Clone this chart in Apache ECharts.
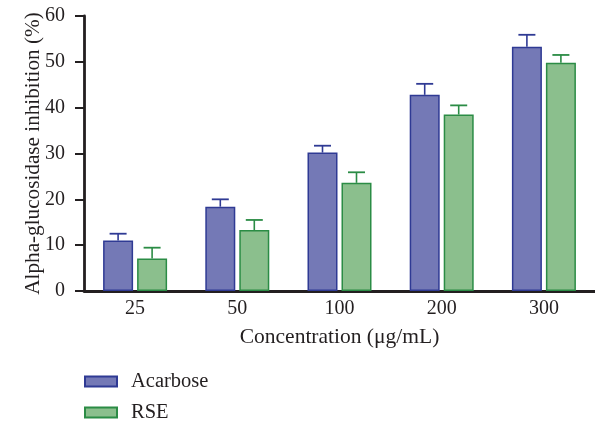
<!DOCTYPE html>
<html>
<head>
<meta charset="utf-8">
<script src="https://cdn.jsdelivr.net/npm/echarts@6/dist/echarts.min.js"></script>
<style>html,body{margin:0;padding:0;background:#fff;}#c{width:595px;height:421px;}</style>
</head>
<body>
<div id="c"></div>
<script>
const categories = ['25', '50', '100', '200', '300'];
const acarbose = [11.0, 18.4, 30.2, 42.8, 53.3];
const acarboseErr = [1.5, 1.6, 1.5, 2.4, 2.6];
const rse = [7.1, 13.3, 23.6, 38.5, 49.8];
const rseErr = [2.35, 2.2, 2.3, 2.0, 1.7];
const yTicks = [0, 10, 20, 30, 40, 50, 60];
const seriesNames = ['Acarbose', 'RSE'];

const FONT = '"Liberation Serif", "Times New Roman", serif';
const TXT = '#231f20';
const BLUE_FILL = '#7479b6', BLUE_LINE = '#2f3a94';
const GREEN_FILL = '#8bbf8d', GREEN_LINE = '#2b8c45';
const BAR_W = 30, BAR_GAP_PX = 4;

function errSeries(name, vals, errs, color, dir) {
  return {
    type: 'custom',
    name: name + ' err',
    z: 5,
    silent: true,
    data: vals.map((v, i) => [i, v, v + errs[i]]),
    renderItem: function (params, api) {
      const base = api.coord([api.value(0), api.value(1)]);
      const top = api.coord([api.value(0), api.value(2)]);
      const off = dir * (BAR_W + BAR_GAP_PX) / 2;
      const x = base[0] + off;
      const hw = 8.5;
      return {
        type: 'group',
        children: [
          { type: 'line', shape: { x1: x, y1: base[1], x2: x, y2: top[1] }, style: { stroke: color, lineWidth: 1.6 } },
          { type: 'line', shape: { x1: x - hw, y1: top[1], x2: x + hw, y2: top[1] }, style: { stroke: color, lineWidth: 1.8 } }
        ]
      };
    }
  };
}

function legendFor(name, top) {
  return {
    orient: 'vertical',
    left: 84,
    top: top,
    padding: 0,
    itemWidth: 32,
    itemHeight: 10,
    icon: 'rect',
    data: [name],
    textStyle: { fontFamily: FONT, fontSize: 20.5, lineHeight: 20, color: TXT, padding: [0, 0, 0, 9] }
  };
}

const chart = echarts.init(document.getElementById('c'), null, { renderer: 'canvas' });
chart.setOption({
  animation: false,
  backgroundColor: '#fff',
  textStyle: { fontFamily: FONT, color: TXT },
  grid: { left: 84, right: 0, top: 16, bottom: 130 },
  legend: [legendFor(seriesNames[0], 371), legendFor(seriesNames[1], 402)],
  xAxis: {
    type: 'category',
    data: categories,
    name: 'Concentration (μg/mL)',
    nameLocation: 'middle',
    nameGap: 35,
    nameMoveOverlap: false,
    nameTextStyle: { fontFamily: FONT, fontSize: 21.5, color: TXT },
    axisLine: { lineStyle: { color: TXT, width: 2.8 } },
    axisTick: { show: false },
    axisLabel: { fontFamily: FONT, fontSize: 20, color: TXT, margin: 8 },
    splitLine: { show: false }
  },
  yAxis: {
    type: 'value',
    min: 0,
    max: 60,
    interval: 10,
    name: 'Alpha-glucosidase inhibition (%)',
    nameLocation: 'middle',
    nameGap: 40,
    nameMoveOverlap: false,
    nameTextStyle: { fontFamily: FONT, fontSize: 21.2, color: TXT },
    axisLine: { show: true, lineStyle: { color: TXT, width: 2.8 } },
    axisTick: { show: true, length: 9, lineStyle: { color: TXT, width: 2 } },
    axisLabel: { fontFamily: FONT, fontSize: 20, color: TXT, margin: 19,
      formatter: function (v) { return yTicks.indexOf(v) >= 0 ? String(v) : ''; } },
    splitLine: { show: false }
  },
  series: [
    {
      name: seriesNames[0], type: 'bar', data: acarbose, barWidth: BAR_W, barGap: (BAR_GAP_PX / BAR_W * 100) + '%',
      itemStyle: { color: BLUE_FILL, borderColor: BLUE_LINE, borderWidth: 1.5 }
    },
    {
      name: seriesNames[1], type: 'bar', data: rse, barWidth: BAR_W,
      itemStyle: { color: GREEN_FILL, borderColor: GREEN_LINE, borderWidth: 1.5 }
    },
    errSeries(seriesNames[0], acarbose, acarboseErr, BLUE_LINE, -1),
    errSeries(seriesNames[1], rse, rseErr, GREEN_LINE, 1)
  ]
});
</script>
</body>
</html>
